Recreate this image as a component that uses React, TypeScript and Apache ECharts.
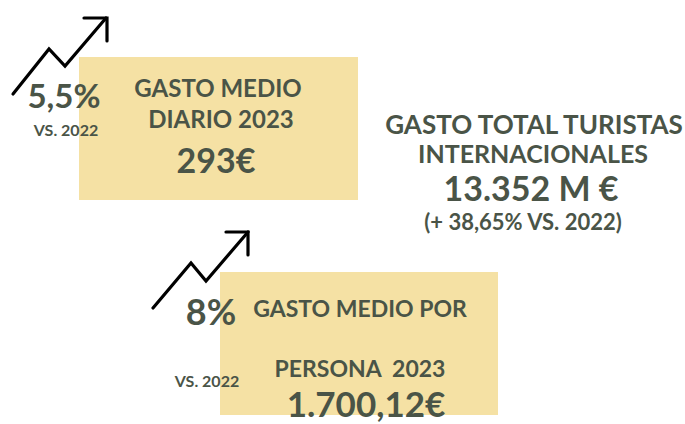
import React, { useEffect, useRef } from "react";
import * as echarts from "echarts";

const boxTitles = [["GASTO MEDIO", "DIARIO 2023"], ["GASTO MEDIO POR", "PERSONA  2023"]];
const boxValues = ["293€", "1.700,12€"];
const growthValues = ["5,5%", "8%"];
const growthRef = "VS. 2022";
const totalTitle = ["GASTO TOTAL TURISTAS", "INTERNACIONALES"];
const totalValue = "13.352 M €";
const totalGrowth = "(+ 38,65% VS. 2022)";

const TXT = "#4a5447";
const BOX = "#f5e1a4";
const FONT = "Lato, 'Open Sans', sans-serif";

function txt(text: string, x: number, y: number, size: number, align = "center") {
  return {
    type: "text",
    x,
    y,
    style: {
      text,
      fill: TXT,
      fontSize: size,
      fontWeight: "bold",
      fontFamily: FONT,
      textAlign: align,
      textVerticalAlign: "middle",
      lineHeight: Math.round(size * 1.1),
    },
  };
}

function arrow(pts: number[][], head: number[][]) {
  return [
    { type: "polyline", shape: { points: pts }, style: { stroke: "#000", lineWidth: 3.2, fill: "none", lineJoin: "miter", lineCap: "round" } },
    { type: "polyline", shape: { points: head }, style: { stroke: "#000", lineWidth: 3.2, fill: "none", lineJoin: "miter", lineCap: "round" } },
  ];
}

export default function App() {
  const ref = useRef<HTMLDivElement>(null);
  useEffect(() => {
    document.body.style.margin = "0";
    const chart = echarts.init(ref.current!, null, { renderer: "svg" });
    const elements: any[] = [
      { type: "rect", shape: { x: 79, y: 57, width: 279, height: 143 }, style: { fill: BOX } },
      { type: "rect", shape: { x: 220, y: 272, width: 278, height: 143 }, style: { fill: BOX } },
      ...arrow([[13, 94], [49, 49], [65, 66], [106, 18]], [[84, 18], [107, 18], [107, 41]]),
      ...arrow([[153, 308], [191, 263], [206, 281], [248, 232]], [[226, 232], [248, 232], [248, 255]]),
      txt(growthValues[0], 64, 95, 33),
      txt(growthRef, 66, 129, 16),
      txt(boxTitles[0][0], 218, 87, 24),
      txt(boxTitles[0][1], 221, 118, 24),
      txt(boxValues[0], 216, 159, 34),
      txt(totalTitle[0], 534, 124, 26),
      txt(totalTitle[1], 533, 153, 25),
      txt(totalValue, 531, 187, 34),
      txt(totalGrowth, 523, 221, 22),
      txt(growthValues[1], 211, 311, 36),
      txt(boxTitles[1][0], 360, 308, 23),
      txt(boxTitles[1][1], 360, 368, 23),
      txt(growthRef, 207, 380, 16),
      txt(boxValues[1], 366, 403, 35),
    ];
    chart.setOption({
      animation: false,
      backgroundColor: "#ffffff",
      graphic: { elements },
    });
    return () => chart.dispose();
  }, []);
  return <div ref={ref} style={{ width: 685, height: 424, position: "absolute", left: 0, top: 0 }} />;
}
